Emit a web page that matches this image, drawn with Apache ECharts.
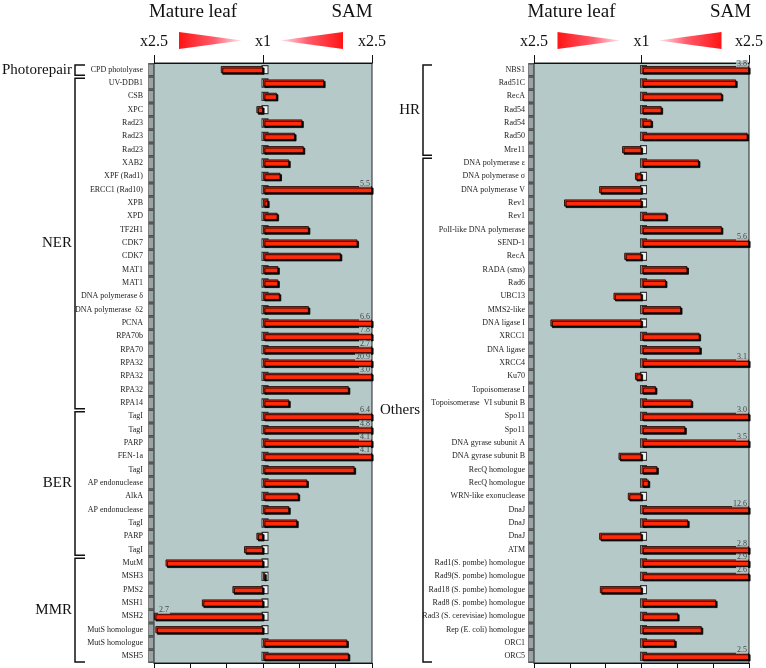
<!DOCTYPE html>
<html><head><meta charset="utf-8">
<script src="https://cdn.jsdelivr.net/npm/echarts@6/dist/echarts.min.js"></script>
<style>html,body{margin:0;padding:0;background:#fff}#c{width:766px;height:668px}</style>
</head><body><div id="c"></div>
<script>
// ---- data (signed fold change: + higher in SAM, - higher in mature leaf) ----
const leftGenes = ['CPD photolyase','UV-DDB1','CSB','XPC','Rad23','Rad23','Rad23','XAB2','XPF (Rad1)','ERCC1 (Rad10)',
  'XPB','XPD','TF2H1','CDK7','CDK7','MAT1','MAT1','DNA polymerase \u03b4','DNA polymerase  \u03b42','PCNA',
  'RPA70b','RPA70','RPA32','RPA32','RPA32','RPA14','TagI','TagI','PARP','FEN-1a',
  'TagI','AP endonuclease','AlkA','AP endonuclease','TagI','PARP','TagI','MutM','MSH3','PMS2',
  'MSH1','MSH2','MutS homologue','MutS homologue','MSH5'];
const leftFold = [-1.58,1.84,1.19,-1.09,1.54,1.44,1.56,1.36,1.24,5.5,
  1.07,1.2,1.63,2.3,2.07,1.21,1.21,1.23,1.63,6.6,
  7.8,2.7,20.9,3.0,2.18,1.36,6.4,4.8,4.1,4.1,
  2.26,1.61,1.49,1.36,1.47,-1.09,-1.26,-2.34,1.03,-1.42,
  -1.84,-2.7,-2.48,2.16,2.18];
const rightGenes = ['NBS1','Rad51C','RecA','Rad54','Rad54','Rad50','Mre11','DNA polymerase \u03b5','DNA polymerase \u03c3','DNA polymerase V',
  'Rev1','Rev1','PolI-like DNA polymerase','SEND-1','RecA','RADA (sms)','Rad6','UBC13','MMS2-like','DNA ligase I',
  'XRCC1','DNA ligase','XRCC4','Ku70','Topoisomerase I','Topoisomerase  VI subunit B','Spo11','Spo11','DNA gyrase subunit A','DNA gyrase subunit B',
  'RecQ homologue','RecQ homologue','WRN-like exonuclease','DnaJ','DnaJ','DnaJ','ATM','Rad1(S. pombe) homologue','Rad9(S. pombe) homologue','Rad18 (S. pombe) homologue',
  'Rad8 (S. pombe) homologue','Rad3 (S. cerevisiae) homologue','Rep (E. coli) homologue','ORC1','ORC5'];
const rightFold = [3.8,2.32,2.12,1.28,1.14,2.48,-1.27,1.8,-1.09,-1.59,
  -2.08,1.35,2.12,5.6,-1.24,1.64,1.34,-1.39,1.55,-2.27,
  1.81,1.82,3.1,-1.09,1.2,1.7,3.0,1.61,3.5,-1.32,
  1.22,1.1,-1.19,12.6,1.65,-1.59,2.8,2.9,2.6,-1.58,
  2.04,1.51,1.84,1.47,2.5];
const leftGroups = [['Photorepair',0,0],['NER',1,25],['BER',26,36],['MMR',37,44]];
const rightGroups = [['HR',0,6],['Others',7,44]];
const scaleLabels = ['x2.5','x1','x2.5'];
const sideTitles = ['Mature leaf','SAM'];
const CAP = 2.5;

// ---- chart ----
const FONT = 'Liberation Serif';
const PLOT_BG = '#b6c9c9';
const chart = echarts.init(document.getElementById('c'), null, {renderer:'canvas'});
const grids = [{left:154, top:63, width:218, height:600}, {left:534, top:63, width:219, height:600}];
const panels = [{genes:leftGenes, fold:leftFold, groups:leftGroups, labelMargin:11, brX:75, brW:10},
                {genes:rightGenes, fold:rightFold, groups:rightGroups, labelMargin:9, brX:423, brW:9}];
const barVal = f => Math.sign(f) * (Math.min(Math.abs(f), CAP) - 1);

const xAxis = [], yAxis = [], series = [];
panels.forEach((p, g) => {
  xAxis.push({gridIndex:g, type:'value', min:-1.5, max:1.5, interval:0.5, position:'bottom',
    axisLine:{show:true, lineStyle:{color:'#111', width:1.2}},
    axisTick:{show:true, length:5, lineStyle:{color:'#111'}},
    axisLabel:{show:false}, splitLine:{show:false}});
  xAxis.push({gridIndex:g, type:'value', min:-1.5, max:1.5, interval:1.5, position:'top',
    axisLine:{show:true, lineStyle:{color:'#111', width:1.2}},
    axisTick:{show:true, length:8, lineStyle:{color:'#111'}},
    axisLabel:{show:true, margin:13, fontSize:16, fontFamily:FONT, color:'#111',
      formatter: v => scaleLabels[Math.round(v/1.5)+1]},
    splitLine:{show:false}});
  yAxis.push({gridIndex:g, type:'category', inverse:true, data:p.genes,
    axisLine:{show:false}, axisTick:{show:false}, splitLine:{show:false},
    axisLabel:{show:true, interval:0, fontSize:8, fontFamily:FONT, color:'#222', margin:p.labelMargin}});
  // left 3D wall
  series.push({type:'scatter', xAxisIndex:g*2, yAxisIndex:g, clip:false, silent:true, z:1,
    symbol:'rect', symbolSize:[5,12], symbolOffset:[-3,0],
    itemStyle:{color:'#7f8f8f', borderColor:'#333', borderWidth:1},
    data:p.genes.map((_,i)=>[-1.5,i])});
  // zero ladder
  series.push({type:'scatter', xAxisIndex:g*2, yAxisIndex:g, clip:false, silent:true, z:2,
    symbol:'rect', symbolSize:[6,8], symbolOffset:[2,0],
    itemStyle:{color:'#ffffff', borderColor:'#111', borderWidth:1.2},
    data:p.genes.map((_,i)=>[0,i])});
  // bars
  series.push({type:'bar', xAxisIndex:g*2, yAxisIndex:g, barWidth:7, z:3,
    itemStyle:{color:'#ff2a0a', borderColor:'#000', borderWidth:0.8,
      shadowColor:'#000', shadowBlur:0, shadowOffsetX:1.5, shadowOffsetY:1.5},
    data:p.fold.map(barVal)});
  // overflow value labels
  series.push({type:'scatter', xAxisIndex:g*2, yAxisIndex:g, clip:false, silent:true, z:5,
    symbolSize:0,
    data:p.fold.map((f,i)=>({f, value:[Math.sign(f)*1.5, i]})).filter(d=>Math.abs(d.f)>=CAP)
      .map(d=>({value:d.value, label:{show:true, position:'inside', formatter:Math.abs(d.f).toFixed(1),
        align: d.f>0?'right':'left', offset: d.f>0?[-1,-6]:[4,-6],
        backgroundColor:PLOT_BG, padding:[0,1,0,1], lineHeight:7,
        fontSize:8, fontFamily:FONT, color:'#222'}}))});
});

chart.setOption({
  animation:false,
  backgroundColor:'#ffffff',
  textStyle:{fontFamily:FONT},
  grid: grids.map(gr=>Object.assign({show:true, backgroundColor:PLOT_BG, borderColor:'#222', borderWidth:1}, gr)),
  xAxis, yAxis, series
});

// ---- decorations: headers, triangles, brackets ----
const graphic = [];
panels.forEach((p, g) => {
  const cx = chart.convertToPixel({xAxisIndex:g*2}, 0);
  graphic.push({type:'text', style:{text:sideTitles[0], x:cx-70, y:12, align:'center', verticalAlign:'middle', fontSize:19, fontFamily:FONT, fill:'#111'}});
  graphic.push({type:'text', style:{text:sideTitles[1], x:cx+89, y:12, align:'center', verticalAlign:'middle', fontSize:19, fontFamily:FONT, fill:'#111'}});
  graphic.push({type:'polygon', shape:{points:[[cx-84,32],[cx-21,40.5],[cx-84,49]]},
    style:{fill:{type:'linear', x:0, y:0, x2:1, y2:0, colorStops:[{offset:0,color:'#ff1414'},{offset:0.55,color:'#ff5a6a'},{offset:1,color:'#ffe6ee'}]}}});
  graphic.push({type:'polygon', shape:{points:[[cx+17,40.5],[cx+80,32],[cx+80,49]]},
    style:{fill:{type:'linear', x:0, y:0, x2:1, y2:0, colorStops:[{offset:0,color:'#ffe6ee'},{offset:0.45,color:'#ff5a6a'},{offset:1,color:'#ff1414'}]}}});
  const band = grids[g].height / p.genes.length;
  p.groups.forEach(([name, a, b]) => {
    const ya = chart.convertToPixel({yAxisIndex:g}, a) - band/2 + 2;
    const yb = chart.convertToPixel({yAxisIndex:g}, b) + band/2 - 1;
    graphic.push({type:'polyline', shape:{points:[[p.brX+p.brW, ya],[p.brX, ya],[p.brX, yb],[p.brX+p.brW, yb]]},
      style:{stroke:'#111', lineWidth:1.5, fill:null}});
    graphic.push({type:'text', style:{text:name, x:p.brX-3, y:(ya+yb)/2, align:'right', verticalAlign:'middle', fontSize:15, fontFamily:FONT, fill:'#111'}});
  });
});
chart.setOption({graphic});
</script></body></html>
